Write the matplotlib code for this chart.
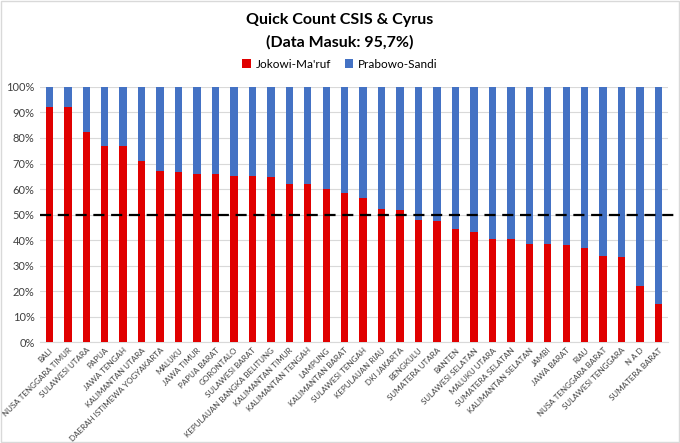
import numpy as np
import matplotlib
matplotlib.use("Agg")
import matplotlib.pyplot as plt
from matplotlib.patches import Rectangle
from matplotlib.ticker import PercentFormatter

plt.rcParams['font.family'] = ['Lato', 'DejaVu Sans']

provinces = [
    'BALI', 'NUSA TENGGARA TIMUR', 'SULAWESI UTARA', 'PAPUA', 'JAWA TENGAH',
    'KALIMANTAN UTARA', 'DAERAH ISTIMEWA YOGYAKARTA', 'MALUKU', 'JAWA TIMUR',
    'PAPUA BARAT', 'GORONTALO', 'SULAWESI BARAT', 'KEPULAUAN BANGKA BELITUNG',
    'KALIMANTAN TIMUR', 'KALIMANTAN TENGAH', 'LAMPUNG', 'KALIMANTAN BARAT',
    'SULAWESI TENGAH', 'KEPULAUAN RIAU', 'DKI JAKARTA', 'BENGKULU',
    'SUMATERA UTARA', 'BANTEN', 'SULAWESI SELATAN', 'MALUKU UTARA',
    'SUMATERA SELATAN', 'KALIMANTAN SELATAN', 'JAMBI', 'JAWA BARAT', 'RIAU',
    'NUSA TENGGARA BARAT', 'SULAWESI TENGGARA', 'N A D', 'SUMATERA BARAT',
]
jokowi = np.array([
    92.0, 92.0, 82.2, 77.0, 77.0, 71.0, 67.2, 66.8, 65.8, 65.8, 65.3, 65.0,
    64.7, 61.8, 61.8, 60.0, 58.4, 56.6, 52.2, 51.7, 47.8, 47.6, 44.2, 43.2,
    40.6, 40.6, 38.6, 38.5, 38.1, 36.9, 33.7, 33.4, 22.1, 15.2,
])
prabowo = 100 - jokowi

red = '#E00000'
blue = '#4472C4'

fig = plt.figure(figsize=(6.8, 4.43), dpi=100)
ax = fig.add_axes([0.059, 0.227, 0.923, 0.577])

x = np.arange(len(provinces))
ax.bar(x, jokowi, width=0.4, color=red, label="Jokowi-Ma'ruf", zorder=3)
ax.bar(x, prabowo, width=0.4, bottom=jokowi, color=blue, label='Prabowo-Sandi', zorder=3)

# garis 50%
ax.plot([0, 1.015], [50, 50], transform=ax.get_yaxis_transform(), color='black',
        lw=1.6, ls=(0, (5, 3)), clip_on=False, zorder=4)

ax.set_xlim(-0.5, len(provinces) - 0.5)
ax.set_ylim(0, 100)
ax.set_yticks(np.arange(0, 101, 10))
ax.yaxis.set_major_formatter(PercentFormatter(decimals=0))
ax.grid(axis='y', color='#D9D9D9', lw=0.8, zorder=0)
ax.set_xticks(x)
ax.set_xticklabels(provinces, rotation=45, ha='right', rotation_mode='anchor', fontsize=5.8, color='#404040')
ax.tick_params(axis='y', labelsize=8, colors='#404040', length=0, pad=4)
ax.tick_params(axis='x', length=0, pad=3)
for s in ['top', 'right', 'left']:
    ax.spines[s].set_visible(False)
ax.spines['bottom'].set_color('#D9D9D9')

fig.text(0.5, 0.955, 'Quick Count CSIS & Cyrus', ha='center', va='center', fontsize=11.5, fontweight='bold')
fig.text(0.5, 0.905, '(Data Masuk: 95,7%)', ha='center', va='center', fontsize=11.5, fontweight='bold')

fig.legend(loc='center', bbox_to_anchor=(0.5, 0.855), ncol=2, frameon=False, fontsize=8.5,
           handlelength=0.7, handleheight=0.7, columnspacing=1.2, handletextpad=0.4)

fig.patches.append(Rectangle((0.002, 0.002), 0.996, 0.996, transform=fig.transFigure,
                             fill=False, edgecolor='#D9D9D9', lw=1))

fig.savefig('out.png', dpi=100)
